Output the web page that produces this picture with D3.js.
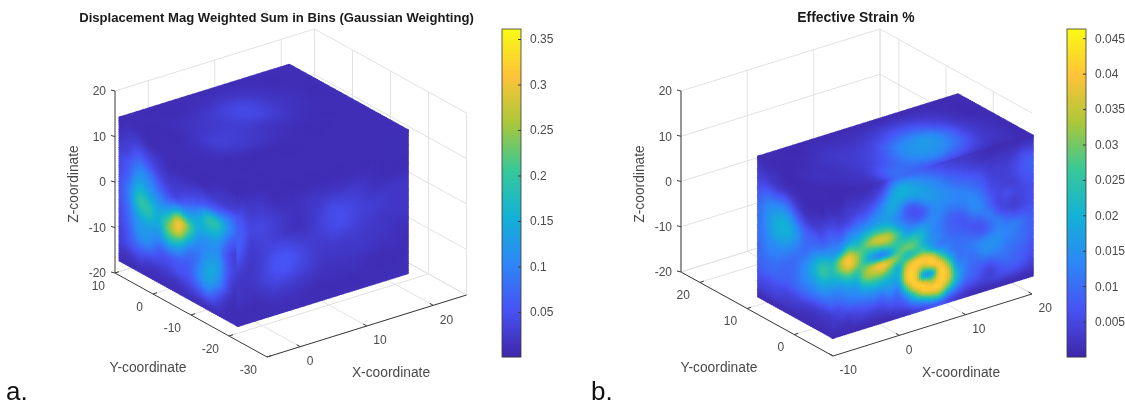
<!DOCTYPE html>
<html><head><meta charset="utf-8">
<script src="https://cdn.jsdelivr.net/npm/d3@7"></script>
<style>
html,body{margin:0;padding:0;background:#fff;width:1125px;height:405px;overflow:hidden}
#stage{position:relative;width:1125px;height:405px}
#stage svg,#stage canvas{position:absolute;left:0;top:0}
text{font-family:"Liberation Sans",Arial,sans-serif}
</style></head><body><div id="stage"></div>
<script>
// ---------- colour table (MATLAB parula) ----------
const parula=["#3e26a8","#4852f4","#2d87f7","#12b1d6","#37c897","#abc739","#fec338","#f9fb14"];
// ---------- axis limits and tick labels ----------
const xLimA=[-5,25], yLimA=[-30,10], zLimA=[-20,20];
const xTicksA=[0,10,20], yTicksA=[10,0,-10,-20,-30], zTicksA=[20,10,0,-10,-20];
const xLimB=[-10,20], yLimB=[-8.2,24], zLimB=[-20,20];
const xTicksB=[-10,0,10,20], yTicksB=[20,10,0], zTicksB=[20,10,0,-10,-20];
const cubeAx=[-4.6,20.8], cubeAy=[-21.7,9.3], cubeAz=[-17,14.2];
const cubeBx=[-10,20], cubeBy=[-8.2,7.5], cubeBz=[-15.8,14.9];
const cbarTicksA=[0.05,0.1,0.15,0.2,0.25,0.3,0.35], cbarRangeA=[0.0005,0.361];
const cbarTicksB=[0.005,0.01,0.015,0.02,0.025,0.03,0.035,0.04,0.045], cbarRangeB=[0,0.0463];
// ---------- panel a values, in hundredths, read per face ----------
const aLeft=[ // columns from the left edge to the front edge, each top to bottom
[1,1,2,3,4,4,5,5,5,4,4,3,3,2,1],
[1,2,3,4,6,7,9,10,9,8,7,6,5,2,1],
[1,2,4,7,10,13,16,19,17,13,12,10,6,3,1],
[1,1,3,5,9,11,14,18,18,14,12,10,5,2,1],
[1,1,2,3,5,8,11,14,15,13,10,6,4,2,1],
[1,1,1,2,3,5,10,18,24,20,12,6,4,2,1],
[1,1,1,2,3,5,16,30,29,19,11,6,5,2,1],
[1,1,1,2,4,8,15,23,18,11,7,6,5,3,1],
[1,1,1,3,5,11,15,14,11,9,9,10,8,4,1],
[1,1,1,3,7,18,17,13,11,12,14,14,11,5,1],
[1,1,2,3,8,18,16,12,11,13,13,11,6,3,1],
[1,1,2,3,9,12,9,6,5,6,5,4,2,1,1],
[1,1,2,4,7,7,5,3,3,3,2,1,1,1,1]];
const aRight=d3.transpose([ // rows top to bottom
[1,1,1,1,1,1,1,1,1,1,1,1,1,1,1],
[1,1,1,1,1,1,1,1,1,1,1,1,1,1,1],
[3,2,2,1,1,1,1,1,1,1,1,1,1,1,1],
[6,3,3,2,1.5,1.5,2,2,2,2,2,1.5,1,1,1],
[7,4,4,3,2,1.5,2,3,4,3.5,3,2,2,2,2],
[7,3,3.5,3,2,1.5,2,3.5,4.5,4.5,3.5,3,2.5,2,2],
[5,2.5,3,4,4,3,2.5,3,4,4,3,2.5,2,2,2],
[3,2,3,5,5.5,4.5,3,2.5,2.5,2.5,2.5,2,2,1.5,1.5],
[2,2,3,4.5,5,4,3,2,2,2,2,2,1.5,1.5,1],
[2,1.5,2,3,3,2.5,2,1.5,1.5,1.5,1.5,1,1,1,1],
[1,1,1,1.5,1.5,1.5,1,1,1,1,1,1,1,1,1],
[1,1,1,1,1,1,1,1,1,1,1,1,1,1,1]]);
const aTop=d3.transpose([
[1,1,1,1,1,1,1,1,1,1,1],
[1,1,1,1,1.5,2,2,1.5,1,1,1],
[1,1,1.5,2,3,4,3.5,2,1.5,1,1],
[1,1,2,2.5,3,4,3.5,2,1.5,1,1],
[1,1.5,3,3,2.5,2,2,1.5,1,1,1],
[1,1.5,2.5,2.5,2,1.5,1,1,1,1,1],
[1,1,1,1,1,1,1,1,1,1,1],
[1,1,1,1,1,1,1,1,1,1,1],
[1,1,1,1,1,1,1,1,1,1,1]]);
// ---------- panel b values, in thousandths, read per face ----------
const bLeft=[
[1,3,4,6,8,10,10,10,10,9,9,8,6,4,1],
[1,2,4,8,12,14,15,14,13,12,10,9,6,4,1],
[1,2,3,8,14,18,19,18,14,12,10,9,6,4,1],
[1,1,3,9,15,19,20,17,13,10,9,8,5,3,1],
[1,1,2,5,10,15,16,13,10,10,10,9,5,3,1],
[1,1,1,2,5,9,10,10,13,14,13,10,5,2,1],
[1,1,1,2,4,8,10,15,19,18,14,10,4,2,1],
[1,1,1,3,5,8,13,22,26,20,15,9,4,2,1],
[1,1,3,5,9,12,18,23,21,16,12,8,3,2,1]];
const bRight=[
[1,1,2,4,6,9,12,15,21,23,20,16,12,9,5,3,2,1],
[1,1,2,3,5,8,12,18,32,32,24,17,13,10,6,4,2,1],
[1,2,3,4,6,12,16,27,39,39,29,20,15,12,8,4,2,1],
[1,2,3,5,9,13,18,24,32,32,26,21,16,13,9,5,3,1],
[1,2,4,6,10,15,22,29,25,23,31,31,22,15,10,6,3,1],
[2,3,5,9,13,16,26,35,24,16,36,33,24,16,11,6,3,1],
[3,5,9,13,15,18,26,37,26,12,39,34,23,16,10,6,3,1],
[7,12,16,18,18,16,24,34,28,18,35,28,21,17,13,8,4,1],
[10,17,20,18,15,13,16,25,25,27,29,20,20,17,11,8,5,2],
[9,16,20,16,9,8,12,16,24,30,22,34,39,38,27,14,7,2],
[9,14,18,17,9,6,9,16,24,28,25,40,40,40,41,27,13,4],
[8,12,16,17,14,8,10,16,20,20,27,41,33,17,40,38,18,5],
[6,10,14,16,16,13,13,14,14,15,18,38,40,18,33,41,25,7],
[5,8,12,14,15,14,13,12,12,13,12,25,39,41,41,40,27,7],
[4,6,9,12,14,13,11,9,9,10,12,14,25,35,37,31,16,5],
[3,5,8,10,13,13,11,8,8,9,10,11,12,16,20,18,10,3],
[3,4,6,9,12,13,12,9,7,8,10,11,11,12,12,10,6,2],
[2,3,5,8,10,13,14,13,9,7,9,12,11,10,9,8,5,1],
[2,2,4,6,8,10,12,13,10,7,8,13,14,11,8,6,4,1],
[1,2,3,4,5,6,8,9,12,10,10,14,15,12,7,4,4,1],
[1,2,3,4,4,5,5,5,7,12,13,14,14,12,9,6,5,1],
[1,2,3,4,4,4,6,5,5,9,12,13,12,11,10,8,5,1],
[1,2,4,5,5,4,5,4,4,7,12,12,11,10,9,8,5,1],
[1,3,6,7,7,6,5,5,5,7,10,10,10,9,8,7,4,1],
[1,3,6,8,8,7,6,6,6,7,8,8,8,7,6,5,3,1]];
const bTop=d3.transpose([
[1,1,1,1,1,1,1,1,1,1,1,1,1],
[1,1,1,2,2,2,3,4,4,3,2,1,1],
[1,1,2,3,3,4,6,9,9,6,3,1,1],
[1,2,2,3,4,6,12,15,15,10,4,2,1],
[1,2,2,3,5,9,14,16,15,10,4,2,1],
[1,1,2,3,9,10,12,13,10,6,3,2,1],
[1,1,1,3,10,9,6,4,3,2,1,1,1]]);
const titleA="Displacement Mag Weighted Sum in Bins (Gaussian Weighting)", titleB="Effective Strain %";

// ---------- layers ----------
const stage=d3.select("#stage");
const back=stage.append("svg").attr("width",1125).attr("height",405);
const canvas=stage.append("canvas").attr("width",1125).attr("height",405).style("filter","blur(0.6px)");
const ctx=canvas.node().getContext("2d");
const front=stage.append("svg").attr("width",1125).attr("height",405);
const TXT="#4a4a4a", AX="#3a3a3a", GRID="#e2e2e2";

function catmull(a,b,c,d,t){return 0.5*(2*b+(c-a)*t+(2*a-5*b+4*c-d)*t*t+(3*b-a-3*c+d)*t*t*t);}
function sample1(g,fu,fv){
  const nu=g.length-1,nv=g[0].length-1;
  fu=Math.max(0,Math.min(fu,nu-1e-6));fv=Math.max(0,Math.min(fv,nv-1e-6));
  const iu=Math.floor(fu),iv=Math.floor(fv),tu=fu-iu,tv=fv-iv;
  const at=(i,j)=>g[Math.max(0,Math.min(nu,i))][Math.max(0,Math.min(nv,j))];
  const r=[-1,0,1,2].map(k=>catmull(at(iu+k,iv-1),at(iu+k,iv),at(iu+k,iv+1),at(iu+k,iv+2),tv));
  return Math.max(0,catmull(r[0],r[1],r[2],r[3],tu));
}
function sample(g,u,v){
  const fu=u*(g.length-1),fv=v*(g[0].length-1),d=0.33;
  return 0.4*sample1(g,fu,fv)+0.15*(sample1(g,fu-d,fv)+sample1(g,fu+d,fv)+sample1(g,fu,fv-d)+sample1(g,fu,fv+d));
}
function panel(o){
  const sxX=d3.scaleLinear().domain(o.xLim).range([0,o.vx[0]]), syX=d3.scaleLinear().domain(o.xLim).range([0,o.vx[1]]);
  const sxY=d3.scaleLinear().domain(o.yLim).range([0,o.vy[0]]), syY=d3.scaleLinear().domain(o.yLim).range([0,o.vy[1]]);
  const syZ=d3.scaleLinear().domain(o.zLim).range([0,o.vz]);
  const P=(x,y,z)=>[o.org[0]+sxX(x)+sxY(y), o.org[1]+syX(x)+syY(y)+syZ(z)];
  const [x0,x1]=o.xLim,[y0,y1]=o.yLim,[z0,z1]=o.zLim;
  const line=(g,a,b,col,w)=>g.append("line").attr("x1",a[0]).attr("y1",a[1]).attr("x2",b[0]).attr("y2",b[1]).attr("stroke",col).attr("stroke-width",w);
  // grid
  o.xT.forEach(x=>{line(back,P(x,y0,z0),P(x,y1,z0),GRID,1);line(back,P(x,y1,z0),P(x,y1,z1),GRID,1);});
  o.yT.forEach(y=>{line(back,P(x0,y,z0),P(x1,y,z0),GRID,1);line(back,P(x1,y,z0),P(x1,y,z1),GRID,1);});
  o.zT.forEach(z=>{line(back,P(x0,y1,z),P(x1,y1,z),GRID,1);line(back,P(x1,y1,z),P(x1,y0,z),GRID,1);});
  line(back,P(x1,y1,z0),P(x1,y1,z1),GRID,1);
  line(back,P(x0,y1,z0),P(x1,y1,z0),GRID,1);line(back,P(x1,y0,z0),P(x1,y1,z0),GRID,1);
  // cube faces, dot lattice as in a 3-D scatter
  const col=d3.scaleLinear().domain(parula.map((_,i)=>o.cRange[1]*i/7)).range(parula).clamp(true);
  const [cx0,cx1]=o.cx,[cy0,cy1]=o.cy,[cz0,cz1]=o.cz;
  const uScale=n=>d3.scaleLinear().domain([0,n]).range([0,1]);
  function face(grid,pt,lenU,lenV){
    const nu=Math.round(lenU/2.25),nv=Math.round(lenV/2.25),su=uScale(nu),sv=uScale(nv);
    for(let i=0;i<=nu;i++)for(let j=0;j<=nv;j++){
      const u=su(i),v=sv(j),p=pt(u,v);
      ctx.fillStyle=col(sample(grid,u,v)*o.unit);
      ctx.beginPath();ctx.arc(p[0],p[1],1.9,0,2*Math.PI);ctx.fill();
    }
  }
  const ix=d3.scaleLinear().domain([0,1]).range([cx0,cx1]);
  const iy=d3.scaleLinear().domain([0,1]).range([cy1,cy0]);
  const iz=d3.scaleLinear().domain([0,1]).range([cz1,cz0]);
  const lx=(cx1-cx0)*Math.hypot(...o.vx)/(x1-x0), ly=(cy1-cy0)*Math.hypot(...o.vy)/(y1-y0), lz=(cz1-cz0)*Math.abs(o.vz)/(z1-z0);
  face(o.top,(u,v)=>P(ix(u),iy(v),cz1),lx,ly);
  face(o.left,(u,v)=>P(cx0,iy(u),iz(v)),ly,lz);
  face(o.right,(u,v)=>P(ix(u),cy0,iz(v)),lx,lz);
  // axes
  line(front,P(x0,y1,z0),P(x0,y1,z1),AX,1);
  line(front,P(x0,y1,z0),P(x0,y0,z0),AX,1);
  line(front,P(x0,y0,z0),P(x1,y0,z0),AX,1);
  const label=(p,t,anchor,size)=>front.append("text").attr("x",p[0]).attr("y",p[1]).attr("dy","0.36em")
      .attr("text-anchor",anchor).attr("font-size",size||12).attr("fill",TXT).text(t);
  o.zT.forEach(z=>{const p=P(x0,y1,z);line(front,p,[p[0]-4,p[1]-1],AX,1);label([p[0]-9,p[1]],z,"end");});
  o.yT.forEach(y=>{const p=P(x0,y,z0);line(front,p,[p[0]+4,p[1]-1.3],AX,1);label([p[0]-10,p[1]+12.5],y,"end");});
  o.xT.forEach(x=>{const p=P(x,y0,z0);line(front,p,[p[0]-3.5,p[1]-2],AX,1);label([p[0]+6.5,p[1]+14],x,"start");});
  // axis titles
  label(o.xLab,"X-coordinate","middle",13.8);
  label(o.yLab,"Y-coordinate","middle",13.8);
  front.append("text").attr("transform",`translate(${o.zLab[0]},${o.zLab[1]}) rotate(-90)`).attr("dy","0.36em")
    .attr("text-anchor","middle").attr("font-size",13.8).attr("fill",TXT).text("Z-coordinate");
  front.append("text").attr("x",o.tPos[0]).attr("y",o.tPos[1]).attr("dy","0.36em").attr("text-anchor","middle")
    .attr("font-size",o.tSize).attr("font-weight","bold").attr("fill","#1a1a1a").text(o.title);
  // colour bar
  const cy=d3.scaleLinear().domain(o.cRange).range([357,29]);
  const bar=front.append("g");
  bar.selectAll("rect").data(d3.range(29,357)).join("rect")
    .attr("x",o.cbX).attr("y",d=>d).attr("width",19).attr("height",1.2).attr("fill",d=>col(cy.invert(d+0.5)));
  const ax=d3.axisRight(cy).tickValues(o.cT).tickFormat(d=>String(d)).tickSize(-3).tickPadding(9);
  const ag=front.append("g").attr("transform",`translate(${o.cbX+19},0)`).call(ax);
  ag.select(".domain").remove();
  ag.selectAll("text").attr("font-size",12).attr("font-family","Liberation Sans").attr("fill",TXT);
  ag.selectAll("line").attr("stroke",AX);
  front.append("rect").attr("x",o.cbX).attr("y",29).attr("width",19).attr("height",328).attr("fill","none").attr("stroke",AX).attr("stroke-width",0.8);
  front.append("text").attr("x",o.letter[0]).attr("y",o.letter[1]).attr("font-size",26).attr("fill","#111").text(o.letterText);
}
panel({xLim:xLimA,yLim:yLimA,zLim:zLimA,xT:xTicksA,yT:yTicksA,zT:zTicksA,
  org:[267,357],vx:[199.5,-62],vy:[-152,-84],vz:-182,
  cx:cubeAx,cy:cubeAy,cz:cubeAz,left:aLeft,right:aRight,top:aTop,unit:0.01,cRange:cbarRangeA,cT:cbarTicksA,
  xLab:[391,372],yLab:[148,367],zLab:[73,184],tPos:[276.5,17],tSize:13.1,title:titleA,cbX:502,letter:[6,400],letterText:"a."});
panel({xLim:xLimB,yLim:yLimB,zLim:zLimB,xT:xTicksB,yT:yTicksB,zT:zTicksB,
  org:[833,356],vx:[199,-62],vy:[-152,-84],vz:-181,
  cx:cubeBx,cy:cubeBy,cz:cubeBz,left:bLeft,right:bRight,top:bTop,unit:0.001,cRange:cbarRangeB,cT:cbarTicksB,
  xLab:[961,372],yLab:[719,367],zLab:[639,184],tPos:[856,17],tSize:13.9,title:titleB,cbX:1067,letter:[591,400],letterText:"b."});
front.style("filter","blur(0.3px)");
</script></body></html>
